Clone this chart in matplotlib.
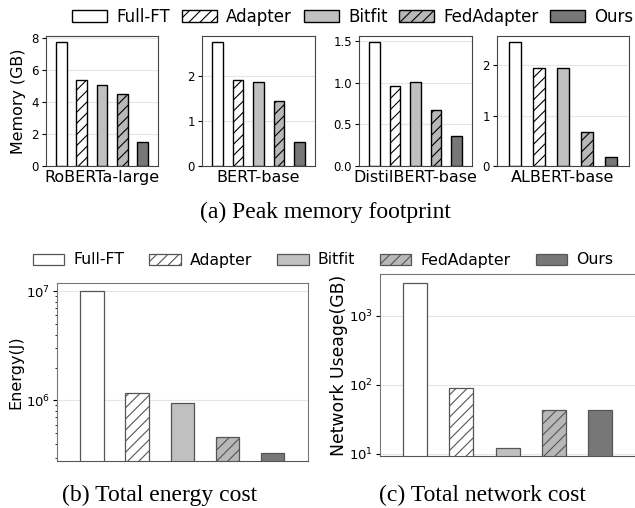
import numpy as np
import matplotlib
matplotlib.use('Agg')
import matplotlib.pyplot as plt
from matplotlib.patches import Patch

methods = ['Full-FT', 'Adapter', 'Bitfit', 'FedAdapter', 'Ours']
models = ['RoBERTa-large', 'BERT-base', 'DistilBERT-base', 'ALBERT-base']

# peak memory (GB), one list per model
mem_roberta = [7.75, 5.38, 5.08, 4.50, 1.50]
mem_bert = [2.74, 1.91, 1.86, 1.43, 0.53]
mem_distil = [1.49, 0.96, 1.01, 0.675, 0.36]
mem_albert = [2.46, 1.94, 1.95, 0.67, 0.17]

energy = [1.0e7, 1.17e6, 9.4e5, 4.6e5, 3.27e5]
network = [3000, 90, 12.2, 42.3, 42.5]

colors = ['white', 'white', '#c0c0c0', '#b8b8b8', '#777777']
hatches = ['', '///', '', '///', '']

plt.rcParams['font.family'] = 'DejaVu Sans'
plt.rcParams['hatch.linewidth'] = 0.8

fig = plt.figure(figsize=(6.35, 5.08), dpi=100)
W, H = 635, 508


def px_axes(x0, y0, x1, y1):
    # pixel box (top-left origin) -> figure axes
    return fig.add_axes([x0 / W, 1 - y1 / H, (x1 - x0) / W, (y1 - y0) / H])


def style(ax, spine_c='#444444'):
    for s in ax.spines.values():
        s.set_color(spine_c)
    ax.set_axisbelow(True)
    ax.grid(axis='y', color='#e6e6e6', linewidth=0.8)
    ax.tick_params(axis='x', length=0)
    ax.set_xticks([])


# ---- (a) memory ----
top_boxes = [(46, 36, 158, 166), (202, 36, 315, 166),
             (359, 36, 472, 166), (497, 36, 629, 166)]
mems = [mem_roberta, mem_bert, mem_distil, mem_albert]
x = np.arange(len(methods))
for i, (box, vals, name) in enumerate(zip(top_boxes, mems, models)):
    ax = px_axes(*box)
    for j in range(len(methods)):
        ax.bar(x[j], vals[j], width=0.52, color=colors[j], hatch=hatches[j],
               edgecolor='black', linewidth=1.0)
    ax.set_xlim(-0.75, 4.75)
    ax.set_ylim(0, max(vals) * 1.05)
    style(ax)
    ax.tick_params(axis='y', labelsize=8.5, length=3, pad=2)
    ax.set_xlabel(name, fontsize=11.5, labelpad=3)
    if i == 0:
        ax.set_ylabel('Memory (GB)', fontsize=11.4, labelpad=4)
        ax.set_yticks([0, 2, 4, 6, 8])
    elif i == 2:
        ax.set_yticks([0.0, 0.5, 1.0, 1.5])
        ax.set_yticklabels(['0.0', '0.5', '1.0', '1.5'])
    else:
        ax.set_yticks([0, 1, 2])

handles = [Patch(facecolor=colors[j], hatch=hatches[j], edgecolor='black',
                 linewidth=1.0, label=methods[j]) for j in range(len(methods))]
fig.legend(handles=handles, loc='center', bbox_to_anchor=(353 / W, 1 - 17 / H),
           ncol=5, frameon=False, fontsize=12, handlelength=2.1,
           handletextpad=0.55, columnspacing=0.7, borderpad=0)

fig.text(325 / W, 1 - 212 / H, '(a) Peak memory footprint',
         family='Liberation Serif', fontsize=17, ha='center', va='center')

# ---- (b) energy ----
axb = px_axes(57, 283, 308, 461)
for j in range(len(methods)):
    axb.bar(x[j], energy[j], width=0.52, color=colors[j], hatch=hatches[j],
            edgecolor='#555555', linewidth=0.9)
axb.set_yscale('log')
axb.set_xlim(-0.77, 4.78)
axb.set_ylim(2.79e5, 1.19e7)
style(axb, '#777777')
axb.spines['bottom'].set_color('#555555')
axb.tick_params(axis='y', labelsize=9.5, length=3, pad=2, which='major')
axb.tick_params(axis='y', which='minor', length=1.5)
axb.set_xticks([])
axb.set_ylabel('Energy(J)', fontsize=11.5, labelpad=2)

fig.text(160 / W, 1 - 495 / H, '(b) Total energy cost',
         family='Liberation Serif', fontsize=17, ha='center', va='center')

# ---- (c) network ----
axc = px_axes(380, 274, 636, 456)
for j in range(len(methods)):
    axc.bar(x[j], network[j], width=0.52, color=colors[j], hatch=hatches[j],
            edgecolor='#555555', linewidth=0.9)
axc.set_yscale('log')
axc.set_xlim(-0.76, 4.78)
axc.set_ylim(9.2, 4000)
style(axc, '#777777')
axc.spines['bottom'].set_color('#555555')
axc.tick_params(axis='y', labelsize=9.5, length=3, pad=2, which='major')
axc.tick_params(axis='y', which='minor', length=0)
axc.set_xticks([])
axc.set_ylabel('Network Useage(GB)', fontsize=12.4, labelpad=1)

fig.text(482 / W, 1 - 495 / H, '(c) Total network cost',
         family='Liberation Serif', fontsize=17, ha='center', va='center')

handles2 = [Patch(facecolor=colors[j], hatch=hatches[j], edgecolor='#555555',
                  linewidth=0.9, label=methods[j]) for j in range(len(methods))]
fig.legend(handles=handles2, loc='center', bbox_to_anchor=(323 / W, 1 - 260 / H),
           ncol=5, frameon=False, fontsize=11.3, handlelength=2.0,
           handletextpad=0.57, columnspacing=1.6, borderpad=0)

fig.savefig('out.png', dpi=100)
